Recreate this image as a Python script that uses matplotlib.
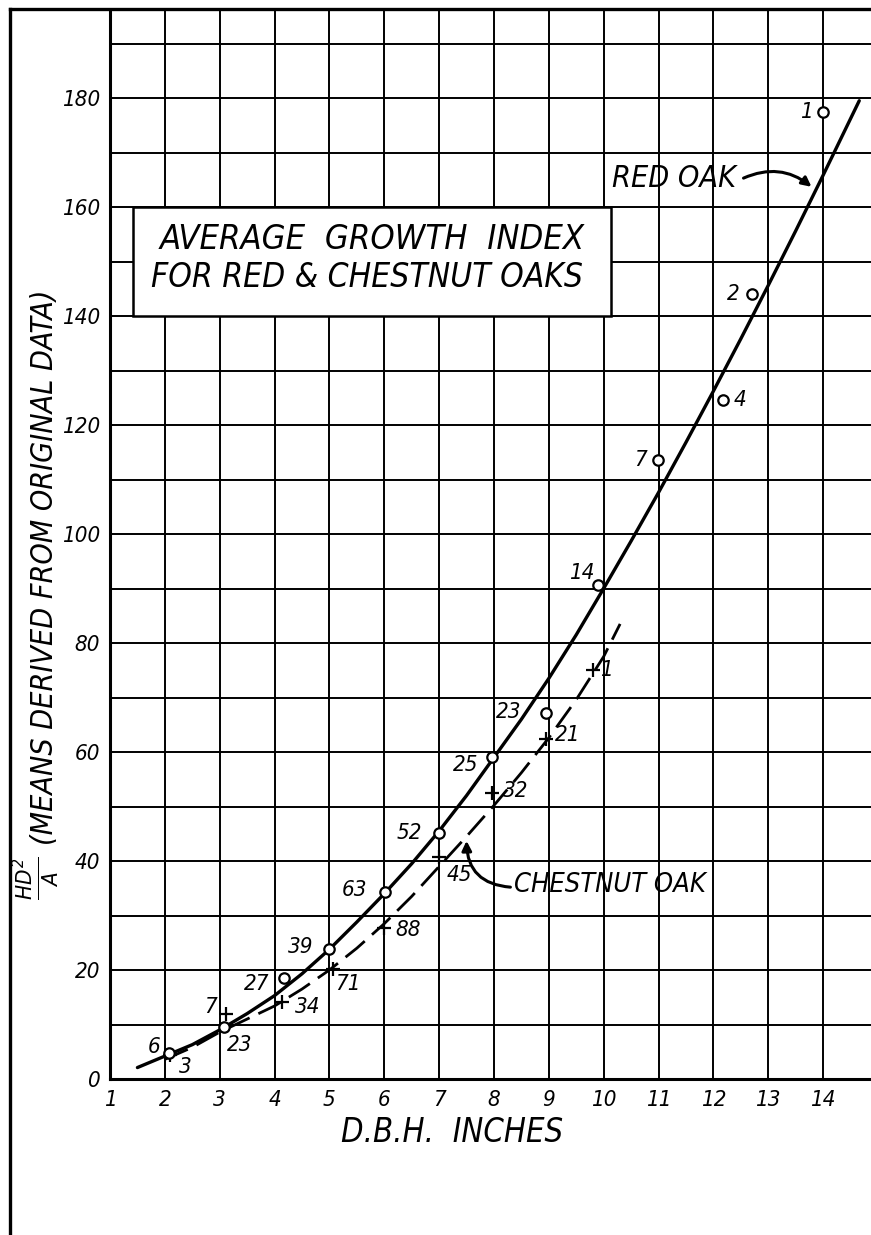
import matplotlib
matplotlib.use('Agg')
import matplotlib.pyplot as plt
from matplotlib import font_manager
from matplotlib.lines import Line2D
from matplotlib.patches import Rectangle

# red oak means (circles) and number of plots behind each mean
red_dbh = [2.07, 3.08, 4.17, 5.0, 6.01, 6.99, 7.96, 8.95, 9.9, 10.99, 12.18, 12.7, 14.0]
red_idx = [4.8, 9.6, 18.5, 23.8, 34.3, 45.2, 59.1, 67.2, 90.6, 113.6, 124.6, 144.0, 177.4]
red_n = ['6', '23', '27', '39', '63', '52', '25', '23', '14', '7', '4', '2', '1']

# chestnut oak means (plus signs)
chest_dbh = [2.1, 3.12, 4.13, 5.07, 5.99, 6.99, 7.97, 8.95, 9.8]
chest_idx = [4.4, 12.0, 14.1, 20.2, 27.7, 40.8, 52.5, 62.4, 75.0]
chest_n = ['3', '7', '34', '71', '88', '45', '32', '21', '1']

# hand drawn curves
red_curve_x = [1.5, 2.0, 2.5, 3.0, 3.5, 4.0, 4.5, 5.0, 5.5, 6.0, 6.5, 7.0, 7.5, 8.0, 8.5,
               9.0, 9.5, 10.0, 10.5, 11.0, 11.5, 12.0, 12.5, 13.0, 13.5, 14.0, 14.66]
red_curve_y = [2.1, 4.2, 6.3, 9.0, 12.0, 15.3, 19.3, 23.8, 28.8, 34.0, 39.5, 45.5, 52.0, 59.0, 66.0,
               73.5, 81.5, 90.0, 98.7, 107.6, 116.8, 126.2, 135.8, 145.6, 155.6, 165.8, 179.5]
chest_curve_x = [2.0, 2.5, 3.0, 3.5, 4.0, 4.5, 5.0, 5.5, 6.0, 6.5, 7.0, 7.5, 8.0, 8.5, 9.0, 9.5, 10.0, 10.3]
chest_curve_y = [3.6, 5.8, 8.6, 11.0, 13.4, 16.5, 20.0, 24.0, 28.5, 33.5, 39.0, 44.5, 50.2, 56.2, 62.6, 69.6, 77.5, 83.5]

x_ticks = list(range(1, 15))
y_ticks = list(range(0, 181, 20))

# label offsets in pixels (dx, dy)
red_off = [(-15, 6), (16, -18), (-27, -6), (-29, 2), (-30, 2), (-29, 0), (-26, -8),
           (-37, 1), (-16, 12), (-17, 0), (17, 0), (-18, 0), (-17, 0)]
chest_off = [(15, -12), (-16, 7), (26, -5), (15, -15), (24, -2), (21, -18), (23, 2), (22, 4), (14, 0)]

# pick the narrowest lettering we have
fonts = font_manager.fontManager.ttflist
names = {f.name for f in fonts}
stretch = 'normal'
if 'Liberation Sans Narrow' in names:
    hand = 'Liberation Sans Narrow'
elif any(f.name == 'DejaVu Sans' and str(f.stretch) in ('condensed', '75', 'semi-condensed') for f in fonts):
    hand = 'DejaVu Sans'
    stretch = 'condensed'
else:
    hand = 'Liberation Sans'
plt.rcParams['font.family'] = [hand, 'DejaVu Sans']
plt.rcParams['font.style'] = 'italic'
plt.rcParams['font.stretch'] = stretch

W, H = 871, 1235
fig = plt.figure(figsize=(W / 100, H / 100), dpi=100)
ax = fig.add_axes([110 / W, 1 - 1079 / H, 1 - 110 / W, (1079 - 10) / H])
ax.set_xlim(1, 1 + 761 / 54.85)
ax.set_ylim(0, 1069 / 5.45)

ax.set_xticks(x_ticks)
ax.set_yticks(y_ticks)
ax.set_xticks(range(1, 15), minor=True)
ax.set_yticks(range(0, 191, 10), minor=True)
ax.grid(True, which='both', color='black', lw=1.4)
ax.set_axisbelow(True)
ax.tick_params(which='both', length=0)
ax.tick_params(axis='x', pad=8, labelsize=16)
ax.tick_params(axis='y', pad=7, labelsize=16)
for lab in ax.get_xticklabels() + ax.get_yticklabels():
    lab.set_style('italic')
for s in ['top', 'right']:
    ax.spines[s].set_visible(False)
ax.spines['left'].set_linewidth(2.2)
ax.spines['bottom'].set_linewidth(2.2)

# page frame
fig.add_artist(Line2D([10 / W, 10 / W], [0, 1 - 9 / H], transform=fig.transFigure, color='black', lw=2.4))
fig.add_artist(Line2D([10 / W, 1], [1 - 9 / H, 1 - 9 / H], transform=fig.transFigure, color='black', lw=2.4))

# curves
ax.plot(red_curve_x, red_curve_y, color='black', lw=2.4, solid_capstyle='round', zorder=3)
ax.plot(chest_curve_x, chest_curve_y, color='black', lw=2.0, linestyle=(0, (9, 3.5)), zorder=3)

# points
ax.plot(red_dbh, red_idx, 'o', ms=7.5, mfc='white', mec='black', mew=1.6, zorder=5)
ax.plot(chest_dbh, chest_idx, '+', ms=10, mec='black', mew=1.6, zorder=4)

for x, y, t, (dx, dy) in zip(red_dbh, red_idx, red_n, red_off):
    ax.annotate(t, (x, y), xytext=(dx, dy), textcoords='offset pixels',
                ha='center', va='center', fontsize=16, style='italic', zorder=6)
for x, y, t, (dx, dy) in zip(chest_dbh, chest_idx, chest_n, chest_off):
    ax.annotate(t, (x, y), xytext=(dx, dy), textcoords='offset pixels',
                ha='center', va='center', fontsize=16, style='italic', zorder=6)

# title box
ax.add_patch(Rectangle((1.42, 140), 10.14 - 1.42, 20, facecolor='white', edgecolor='black', lw=1.8, zorder=3))
t1 = ax.text(5.78, 154.1, 'AVERAGE  GROWTH  INDEX', ha='center', va='center', fontsize=27, style='italic', zorder=4)
t2 = ax.text(5.69, 147.0, 'FOR RED & CHESTNUT OAKS', ha='center', va='center', fontsize=27, style='italic', zorder=4)

# curve labels
t3 = ax.text(10.16, 165.3, 'RED OAK', ha='left', va='center', fontsize=17, style='italic')
ax.annotate('', xy=(13.79, 163.7), xytext=(12.55, 165.3),
            arrowprops=dict(arrowstyle='-|>', lw=2.2, color='black', mutation_scale=14,
                            connectionstyle='arc3,rad=-0.3', shrinkA=0, shrinkB=0))
t4 = ax.text(8.36, 35.6, 'CHESTNUT OAK', ha='left', va='center', fontsize=17, style='italic')
ax.annotate('', xy=(7.5, 43.7), xytext=(8.3, 35.2),
            arrowprops=dict(arrowstyle='-|>', lw=2.2, color='black', mutation_scale=14,
                            connectionstyle='arc3,rad=-0.45', shrinkA=0, shrinkB=0))

# axis titles
t5 = fig.text(452 / W, 1 - 1133 / H, 'D.B.H.  INCHES', ha='center', va='center', fontsize=20, style='italic')
t6 = fig.text(45 / W, 1 - 567 / H, '(MEANS DERIVED FROM ORIGINAL DATA)', rotation=90,
              ha='center', va='center', fontsize=22, style='italic')
fig.text(36 / W, 1 - 878 / H, r'$\frac{HD^2}{A}$', rotation=90, ha='center', va='center', fontsize=23)

# squeeze the lettering to the widths on the sheet
renderer = fig.canvas.get_renderer()
for t, size, along in [(t1, 425, 'w'), (t2, 433, 'w'), (t3, 124, 'w'), (t4, 192, 'w'),
                       (t5, 221, 'w'), (t6, 555, 'h')]:
    bb = t.get_window_extent(renderer=renderer)
    cur = bb.width if along == 'w' else bb.height
    t.set_fontsize(min(t.get_fontsize() * size / cur, 30))

fig.savefig('out.png', dpi=100)
